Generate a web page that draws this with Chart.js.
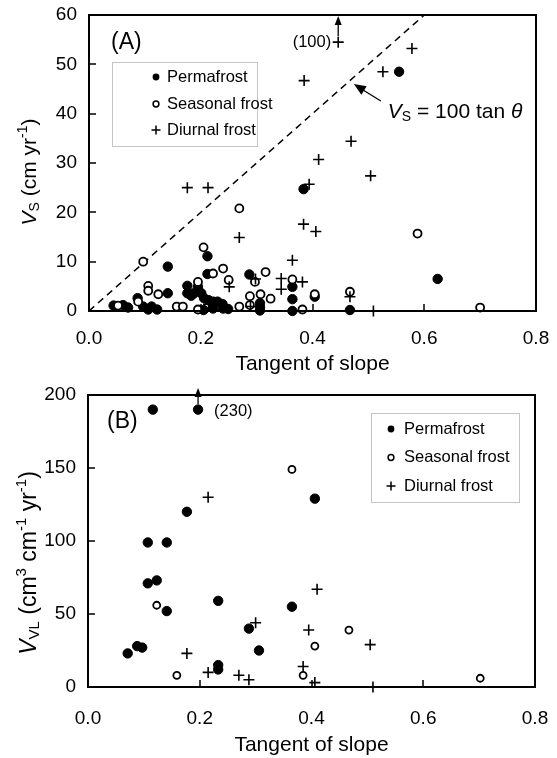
<!DOCTYPE html>
<html>
<head>
<meta charset="utf-8">
<script src="https://cdn.jsdelivr.net/npm/chart.js@4.4.1/dist/chart.umd.min.js"></script>
<style>
  html, body { margin: 0; padding: 0; background: #fff; }
  #wrapA { position: absolute; left: 0; top: 0; }
  #wrapB { position: absolute; left: 0; top: 377px; }
</style>
</head>
<body>
<div id="wrapA"><canvas id="chartA" width="557" height="377"></canvas></div>
<div id="wrapB"><canvas id="chartB" width="557" height="381"></canvas></div>
<script>
// tick values / labels
const xTickValues = [0, 0.2, 0.4, 0.6, 0.8];
const xTickLabels = ['0.0', '0.2', '0.4', '0.6', '0.8'];
const yTicksA = [0, 10, 20, 30, 40, 50, 60];
const yTicksB = [0, 50, 100, 150, 200];
const legendLabels = ['Permafrost', 'Seasonal frost', 'Diurnal frost'];

// (A) surface velocity V_S vs tangent of slope, [tan, V_S]
const permafrostA = [
  [0.044, 1.1], [0.061, 1.2], [0.070, 0.7], [0.087, 2.6], [0.097, 0.9], [0.106, 0.3], [0.112, 0.9],
  [0.122, 0.3], [0.141, 3.6], [0.141, 9.0], [0.176, 5.1], [0.176, 3.6], [0.183, 3.1], [0.188, 3.6],
  [0.195, 4.9], [0.201, 3.6], [0.206, 2.6], [0.205, 0.2], [0.212, 11.1], [0.212, 7.5], [0.214, 2.2],
  [0.222, 1.9], [0.222, 0.5], [0.230, 1.9], [0.239, 1.4], [0.240, 0.5], [0.249, 0.4], [0.287, 7.4],
  [0.306, 1.6], [0.306, 0.8], [0.306, 0.1], [0.364, 4.9], [0.364, 2.4], [0.364, 0.0], [0.384, 24.7],
  [0.404, 2.9], [0.467, 0.2], [0.555, 48.5], [0.624, 6.5]
];
const seasonalA = [
  [0.052, 1.1], [0.088, 1.9], [0.097, 10.0], [0.106, 5.1], [0.106, 4.1], [0.124, 3.4], [0.157, 0.9],
  [0.168, 0.9], [0.195, 5.9], [0.195, 0.3], [0.205, 12.9], [0.222, 7.6], [0.240, 8.6], [0.250, 6.3],
  [0.269, 20.8], [0.269, 0.9], [0.288, 3.0], [0.288, 1.2], [0.297, 5.9], [0.307, 3.4], [0.316, 7.9],
  [0.325, 2.5], [0.364, 6.4], [0.382, 0.3], [0.404, 3.4], [0.467, 3.9], [0.588, 15.7], [0.700, 0.7]
];
const diurnalA = [
  [0.176, 25.0], [0.213, 25.0], [0.214, 1.4], [0.251, 4.9], [0.269, 14.9], [0.289, 0.9], [0.298, 6.5],
  [0.344, 6.6], [0.344, 4.4], [0.364, 10.3], [0.382, 5.9], [0.384, 17.6], [0.385, 46.7], [0.394, 25.7],
  [0.406, 16.1], [0.411, 30.7], [0.446, 54.5], [0.467, 2.9], [0.469, 34.4], [0.504, 27.4], [0.509, 0.0],
  [0.526, 48.5], [0.578, 53.2]
];
// V_S = 100 tan(theta)
const refLineA = [[0, 0], [0.6, 60]];
// point drawn at the top, real value in brackets
const offScaleA = { x: 0.446, y: 54.5, label: '(100)' };

// (B) volumetric velocity V_VL vs tangent of slope
const permafrostB = [
  [0.071, 23], [0.088, 28], [0.097, 27], [0.107, 99], [0.107, 71], [0.116, 190], [0.123, 73],
  [0.141, 99], [0.141, 52], [0.177, 120], [0.197, 190], [0.233, 59], [0.233, 15], [0.233, 12],
  [0.288, 40], [0.306, 25], [0.365, 55], [0.406, 129]
];
const seasonalB = [[0.123, 56], [0.159, 8], [0.365, 149], [0.385, 8], [0.406, 28], [0.467, 39], [0.702, 6]];
const diurnalB = [
  [0.177, 23], [0.215, 130], [0.215, 10], [0.270, 8], [0.288, 5], [0.300, 44], [0.385, 14],
  [0.395, 39], [0.406, 3], [0.410, 67], [0.505, 29], [0.510, 0]
];
const offScaleB = { x: 0.197, y: 190, label: '(230)' };

const FONT = '"Liberation Sans", Arial, Helvetica, sans-serif';
const toXY = arr => arr.map(p => ({ x: p[0], y: p[1] }));

function richText(ctx, parts, x, y, align, rotate) {
  ctx.save();
  ctx.translate(x, y);
  if (rotate) ctx.rotate(-Math.PI / 2);
  ctx.fillStyle = '#000';
  ctx.textBaseline = 'middle';
  ctx.textAlign = 'left';
  const setF = p => { ctx.font = (p.italic ? 'italic ' : '') + p.size + 'px ' + FONT; };
  let w = 0;
  parts.forEach(p => { setF(p); w += ctx.measureText(p.t).width; });
  let cx = align === 'center' ? -w / 2 : 0;
  parts.forEach(p => {
    setF(p);
    ctx.fillText(p.t, cx, p.dy || 0);
    cx += ctx.measureText(p.t).width;
  });
  ctx.restore();
}

function arrowHead(ctx, x1, y1, x2, y2, len, half) {
  const a = Math.atan2(y2 - y1, x2 - x1);
  ctx.beginPath();
  ctx.moveTo(x2, y2);
  ctx.lineTo(x2 - len * Math.cos(a) + half * Math.sin(a), y2 - len * Math.sin(a) - half * Math.cos(a));
  ctx.lineTo(x2 - len * Math.cos(a) - half * Math.sin(a), y2 - len * Math.sin(a) + half * Math.cos(a));
  ctx.closePath();
  ctx.fill();
}

// frame, inward ticks, legend, labels
const decor = {
  id: 'decor',
  afterDraw(chart, args, o) {
    const ctx = chart.ctx;
    const a = chart.chartArea;
    const x = chart.scales.x, y = chart.scales.y;
    const L0 = Math.round(a.left), T0 = Math.round(a.top);
    const R0 = Math.round(a.right), B0 = Math.round(a.bottom);
    ctx.save();
    ctx.setLineDash([]);
    ctx.fillStyle = '#000';
    // frame as filled bars
    ctx.fillRect(L0 - 1, T0 - 1, R0 - L0 + 2, 2);
    ctx.fillRect(L0 - 1, B0 - 1, R0 - L0 + 2, 2);
    ctx.fillRect(L0 - 1, T0 - 1, 2, B0 - T0 + 2);
    ctx.fillRect(R0 - 1, T0 - 1, 2, B0 - T0 + 2);
    // inward ticks
    xTickValues.forEach(v => {
      const px = Math.round(x.getPixelForValue(v));
      ctx.fillRect(px - 0.75, B0 - 7, 1.5, 7);
    });
    o.yTicks.forEach(v => {
      const py = Math.round(y.getPixelForValue(v));
      ctx.fillRect(L0, py - 0.75, 7, 1.5);
    });

    // y axis title
    richText(ctx, o.yTitle, o.yTitleX, o.yTitleY, 'center', true);

    // panel label
    ctx.font = '23px ' + FONT;
    ctx.textBaseline = 'middle';
    ctx.fillText(o.panel, a.left + o.panelPos[0], a.top + o.panelPos[1]);

    // legend
    const L = o.legend;
    const bx = a.left + L.x, by = a.top + L.y;
    ctx.save();
    ctx.strokeStyle = '#888';
    ctx.lineWidth = 1;
    ctx.setLineDash([1, 1]);
    ctx.strokeRect(bx + 0.5, by + 0.5, L.w, L.h);
    ctx.restore();
    ctx.strokeStyle = '#000';
    ctx.font = '16.5px ' + FONT;
    ctx.textBaseline = 'middle';
    legendLabels.forEach((lab, i) => {
      const ry = by + L.rows[i];
      const mx = bx + L.mx;
      ctx.lineWidth = 1.5;
      if (i === 0) { ctx.beginPath(); ctx.arc(mx, ry, 3.4, 0, Math.PI * 2); ctx.fill(); }
      if (i === 1) { ctx.beginPath(); ctx.arc(mx, ry, 2.9, 0, Math.PI * 2); ctx.stroke(); }
      if (i === 2) {
        ctx.beginPath();
        ctx.moveTo(mx - 4.5, ry); ctx.lineTo(mx + 4.5, ry);
        ctx.moveTo(mx, ry - 4.5); ctx.lineTo(mx, ry + 4.5);
        ctx.stroke();
      }
      ctx.fillText(lab, bx + L.tx, ry);
    });

    // off-scale point arrow
    const os = o.offScale;
    const ox = x.getPixelForValue(os.x), oy = y.getPixelForValue(os.y);
    const tip = a.top + os.tip;
    ctx.lineWidth = 1.3;
    ctx.beginPath();
    ctx.moveTo(ox, oy - os.gap); ctx.lineTo(ox, tip + 6);
    ctx.stroke();
    arrowHead(ctx, ox, oy, ox, tip, 9, 3.5);
    ctx.font = '16.5px ' + FONT;
    ctx.textAlign = os.side === 'left' ? 'right' : 'left';
    ctx.fillText(os.label, ox + (os.side === 'left' ? -7 : 16), oy + os.dy);
    ctx.textAlign = 'left';

    // reference-line annotation
    if (o.formula) {
      const f = o.formula;
      const hx = x.getPixelForValue(f.at[0]), hy = y.getPixelForValue(f.at[1]);
      const tx = hx + 27, ty = hy + 17;
      ctx.lineWidth = 1.3;
      ctx.beginPath(); ctx.moveTo(tx, ty); ctx.lineTo(hx + 6, hy + 4); ctx.stroke();
      arrowHead(ctx, tx, ty, hx, hy, 12, 5);
      richText(ctx, [
        { t: 'V', size: 21, italic: true },
        { t: 'S', size: 14, dy: 5 },
        { t: ' = 100 tan ', size: 21 },
        { t: '\u03b8', size: 21, italic: true }
      ], tx + 7, ty + 11, 'left', false);
    }
    ctx.restore();
  }
};

function scatterSets(perma, seas, diur, openR) {
  return [
    { label: legendLabels[2], data: toXY(diur), pointStyle: 'cross', pointRadius: 5.5,
      borderColor: '#000', borderWidth: 1.6, clip: false },
    { label: legendLabels[1], data: toXY(seas), pointStyle: 'circle', pointRadius: openR,
      backgroundColor: '#fff', borderColor: '#000', borderWidth: 1.8, clip: false },
    { label: legendLabels[0], data: toXY(perma), pointStyle: 'circle', pointRadius: 4.7,
      backgroundColor: '#000', borderColor: '#000', borderWidth: 1, clip: false }
  ];
}

function axes(yTicks, yMax, yWidth, xHeight, xPad) {
  return {
    x: {
      type: 'linear', min: 0, max: 0.8,
      afterBuildTicks: s => { s.ticks = xTickValues.map(v => ({ value: v })); },
      ticks: { callback: v => xTickLabels[xTickValues.indexOf(v)], color: '#000',
        font: { family: FONT, size: 19 }, padding: xPad, maxRotation: 0, autoSkip: false },
      grid: { display: false, drawTicks: false },
      border: { display: false },
      title: { display: true, text: 'Tangent of slope', color: '#000',
        font: { family: FONT, size: 21 }, padding: { top: 0, bottom: 0 } },
      // fixed axis box; label overhang is covered by layout padding
      afterFit: s => { s.height = xHeight; s.paddingLeft = 0; s.paddingRight = 0; }
    },
    y: {
      type: 'linear', min: 0, max: yMax,
      afterBuildTicks: s => { s.ticks = yTicks.map(v => ({ value: v })); },
      ticks: { color: '#000', font: { family: FONT, size: 19 }, padding: 12, autoSkip: false },
      grid: { display: false, drawTicks: false },
      border: { display: false },
      afterFit: s => { s.width = yWidth; s.paddingTop = 0; s.paddingBottom = 0; }
    }
  };
}

const chartA = new Chart(document.getElementById('chartA'), {
  type: 'scatter',
  data: {
    datasets: scatterSets(permafrostA, seasonalA, diurnalA, 4).concat([{
      data: toXY(refLineA), showLine: true, pointRadius: 0, borderColor: '#000',
      borderWidth: 1.5, borderDash: [7, 5]
    }])
  },
  options: {
    responsive: false,
    animation: false,
    layout: { padding: { top: 15, right: 21, left: 0, bottom: 0 } },
    scales: axes(yTicksA, 60, 89, 66, 16),
    plugins: {
      legend: { display: false },
      tooltip: { enabled: false },
      decor: {
        yTicks: yTicksA,
        panel: '(A)', panelPos: [22, 28],
        legend: { x: 23, y: 47, w: 145, h: 84, rows: [15, 42, 68], mx: 44, tx: 55 },
        yTitle: [
          { t: 'V', size: 21, italic: true }, { t: 'S', size: 14, dy: 5 },
          { t: ' (cm yr', size: 21 }, { t: '-1', size: 14, dy: -7 }, { t: ')', size: 21 }
        ],
        yTitleX: 30, yTitleY: 172,
        offScale: { x: offScaleA.x, y: offScaleA.y, label: offScaleA.label, tip: 1, gap: 6, side: 'left', dy: 0 },
        formula: { at: [0.474, 46.0] }
      }
    }
  },
  plugins: [decor]
});

const chartB = new Chart(document.getElementById('chartB'), {
  type: 'scatter',
  data: { datasets: scatterSets(permafrostB, seasonalB, diurnalB, 3.5) },
  options: {
    responsive: false,
    animation: false,
    layout: { padding: { top: 18, right: 22, left: 0, bottom: 0 } },
    scales: axes(yTicksB, 200, 88, 71, 20),
    plugins: {
      legend: { display: false },
      tooltip: { enabled: false },
      decor: {
        yTicks: yTicksB,
        panel: '(B)', panelPos: [19, 27],
        legend: { x: 283, y: 18, w: 148, h: 89, rows: [16, 44.5, 73], mx: 20, tx: 33 },
        yTitle: [
          { t: 'V', size: 23, italic: true }, { t: 'VL', size: 15, dy: 5 },
          { t: ' (cm', size: 23 }, { t: '3', size: 15, dy: -8 },
          { t: ' cm', size: 23 }, { t: '-1', size: 15, dy: -8 },
          { t: ' yr', size: 23 }, { t: '-1', size: 15, dy: -8 }, { t: ')', size: 23 }
        ],
        yTitleX: 30, yTitleY: 563 - 377,
        offScale: { x: offScaleB.x, y: offScaleB.y, label: offScaleB.label, tip: -7, gap: 5, side: 'right', dy: 2 }
      }
    }
  },
  plugins: [decor]
});
</script>
</body>
</html>
